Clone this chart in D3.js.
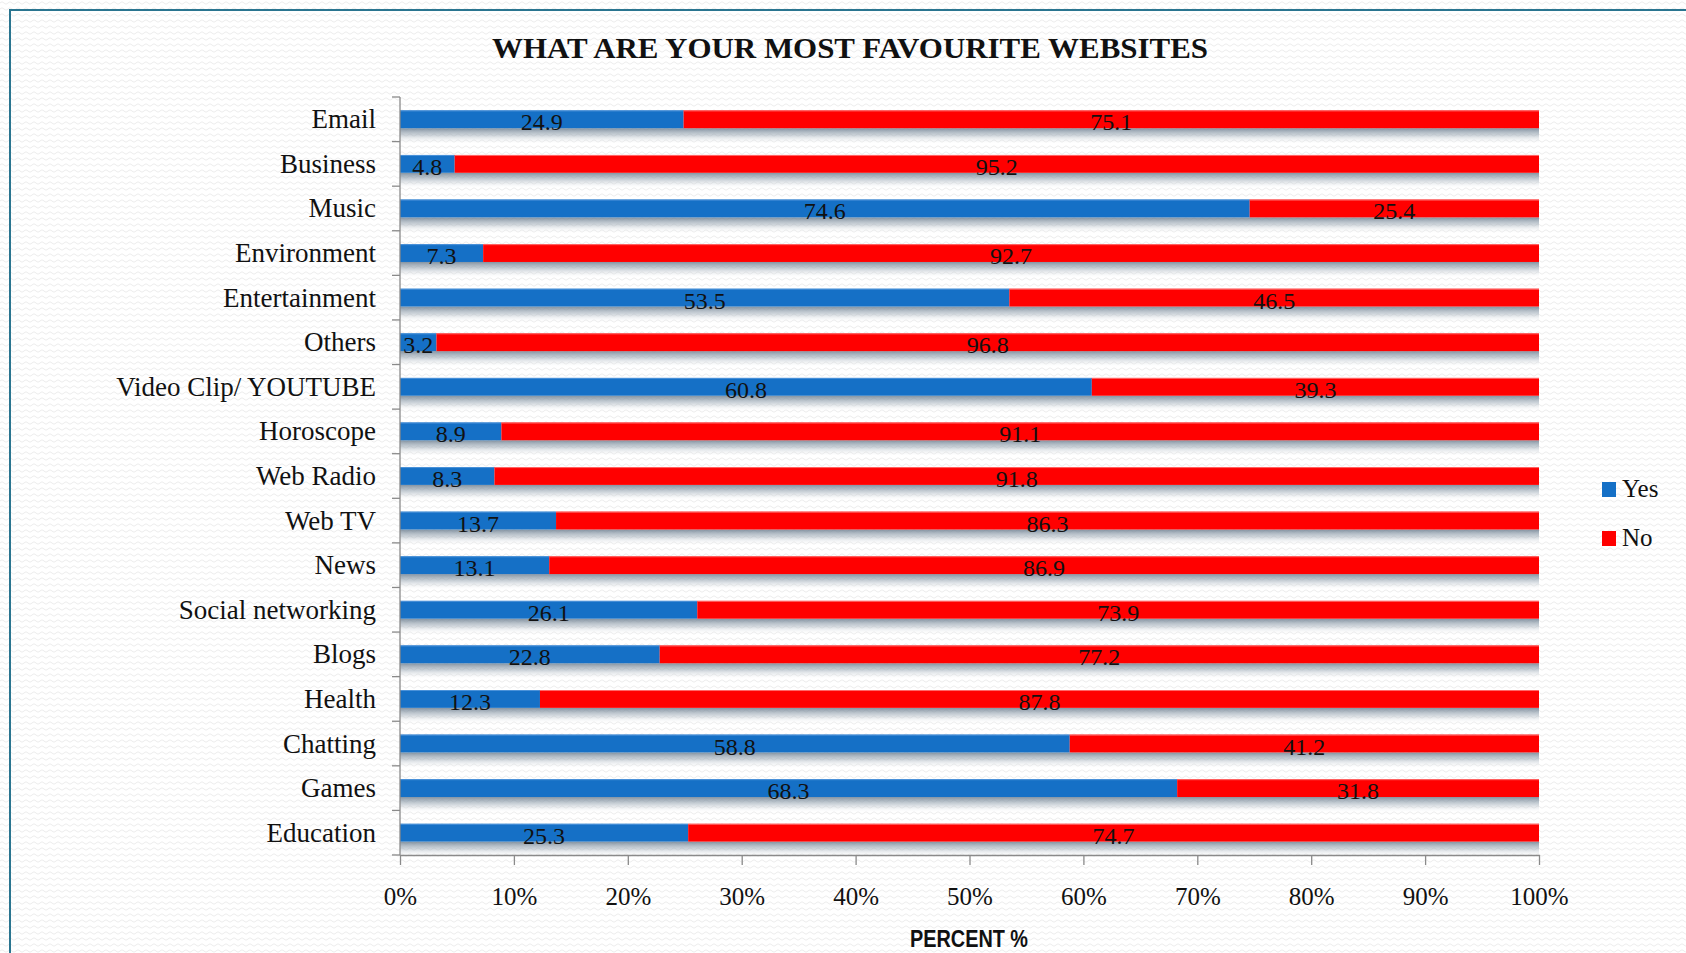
<!DOCTYPE html>
<html>
<head>
<meta charset="utf-8">
<script src="https://cdn.jsdelivr.net/npm/d3@7"></script>
<style>
  html, body { margin: 0; padding: 0; background: #ffffff; }
  svg { display: block; }
</style>
</head>
<body>
<svg id="chart" width="1686" height="953"></svg>
<script>
// Website categories, top to bottom
const categories = [
  "Email", "Business", "Music", "Environment", "Entertainment", "Others",
  "Video Clip/ YOUTUBE", "Horoscope", "Web Radio", "Web TV", "News",
  "Social networking", "Blogs", "Health", "Chatting", "Games", "Education"
];
// Share of respondents (%) answering Yes / No
const yesValues = [24.9, 4.8, 74.6, 7.3, 53.5, 3.2, 60.8, 8.9, 8.3, 13.7, 13.1, 26.1, 22.8, 12.3, 58.8, 68.3, 25.3];
const noValues  = [75.1, 95.2, 25.4, 92.7, 46.5, 96.8, 39.3, 91.1, 91.8, 86.3, 86.9, 73.9, 77.2, 87.8, 41.2, 31.8, 74.7];
const seriesNames = ["Yes", "No"];
const tickValues = [0, 0.1, 0.2, 0.3, 0.4, 0.5, 0.6, 0.7, 0.8, 0.9, 1];

const colors = { Yes: "#1570c6", No: "#ff0000" };
const serif = "'Liberation Serif', 'DejaVu Serif', serif";

const rows = categories.map((c, i) => ({ category: c, Yes: yesValues[i], No: noValues[i] }));

// 100% stacked layout: each segment normalised by its row total
const stacked = d3.stack().keys(seriesNames).offset(d3.stackOffsetExpand)(rows);

const svg = d3.select("#chart");
const defs = svg.append("defs");

// faint wavy paper texture
const pat = defs.append("pattern")
  .attr("id", "paper").attr("patternUnits", "userSpaceOnUse")
  .attr("width", 8).attr("height", 6);
pat.append("path")
  .attr("d", "M0 3 Q2 0.5 4 3 T8 3")
  .attr("fill", "none").attr("stroke", "#ececec").attr("stroke-width", 1);

// soft shadow under each bar
const grad = defs.append("linearGradient")
  .attr("id", "barShadow").attr("x1", 0).attr("y1", 0).attr("x2", 0).attr("y2", 1);
grad.append("stop").attr("offset", "0%").attr("stop-color", "#6f8192").attr("stop-opacity", 0.85);
grad.append("stop").attr("offset", "45%").attr("stop-color", "#9eabb7").attr("stop-opacity", 0.5);
grad.append("stop").attr("offset", "100%").attr("stop-color", "#ffffff").attr("stop-opacity", 0);

svg.append("rect").attr("width", 1686).attr("height", 953).attr("fill", "#ffffff");
svg.append("rect").attr("width", 1686).attr("height", 953).attr("fill", "url(#paper)");

// slide frame
svg.append("rect")
  .attr("x", 10).attr("y", 10).attr("width", 1720).attr("height", 1000)
  .attr("fill", "none").attr("stroke", "#2a7590").attr("stroke-width", 2);

const x = d3.scaleLinear().domain([0, 1]).range([400, 1539]);
const y = d3.scaleBand().domain(categories).range([97, 855])
  .paddingInner(0.6).paddingOuter(0.3);
const step = y.step();
const bw = y.bandwidth();

// Title
svg.append("text")
  .attr("x", 492).attr("y", 58)
  .attr("textLength", 716).attr("lengthAdjust", "spacingAndGlyphs")
  .attr("font-family", serif).attr("font-weight", "bold").attr("font-size", 30)
  .attr("fill", "#111").text("WHAT ARE YOUR MOST FAVOURITE WEBSITES");

// Shadows
svg.append("g").selectAll("rect").data(categories).join("rect")
  .attr("x", x(0)).attr("width", x(1) - x(0))
  .attr("y", d => y(d) + bw).attr("height", 16)
  .attr("fill", "url(#barShadow)");

// Bars
const layer = svg.append("g").selectAll("g").data(stacked).join("g")
  .attr("fill", d => colors[d.key]);
layer.selectAll("rect").data(d => d).join("rect")
  .attr("x", d => x(d[0]))
  .attr("width", d => x(d[1]) - x(d[0]))
  .attr("y", d => y(d.data.category))
  .attr("height", bw);

// thin light top edge on the bars
layer.selectAll("line").data(d => d).join("line")
  .attr("x1", d => x(d[0])).attr("x2", d => x(d[1]))
  .attr("y1", d => y(d.data.category) + 0.5).attr("y2", d => y(d.data.category) + 0.5)
  .attr("stroke", (d, i, n) => d3.select(n[i].parentNode).datum().key === "Yes" ? "#4d93da" : "#ff6a6a")
  .attr("stroke-width", 1);

// Value labels, centred in each segment
const labels = svg.append("g")
  .attr("font-family", serif).attr("font-size", 24)
  .attr("text-anchor", "middle").attr("fill", "#111");
stacked.forEach(s => {
  labels.selectAll(null).data(s).join("text")
    .attr("x", d => (x(d[0]) + x(d[1])) / 2)
    .attr("y", d => y(d.data.category) + bw / 2 + 11)
    .text(d => d.data[s.key]);
});

// Y axis: line, ticks between categories, labels
const axisColor = "#8a8a8a";
svg.append("line")
  .attr("x1", x(0)).attr("x2", x(0)).attr("y1", 97).attr("y2", 855)
  .attr("stroke", axisColor).attr("stroke-width", 1.3);
const boundaries = d3.range(categories.length + 1).map(i => 97 + i * step);
svg.append("g").selectAll("line").data(boundaries).join("line")
  .attr("x1", x(0) - 8).attr("x2", x(0))
  .attr("y1", d => d).attr("y2", d => d)
  .attr("stroke", axisColor).attr("stroke-width", 1.3);
svg.append("g")
  .attr("font-family", serif).attr("font-size", 27)
  .attr("text-anchor", "end").attr("fill", "#111")
  .selectAll("text").data(categories).join("text")
  .attr("x", 376)
  .attr("y", d => y(d) + bw / 2 + 9)
  .text(d => d);

// X axis
const xAxis = d3.axisBottom(x).tickValues(tickValues)
  .tickFormat(d3.format(".0%")).tickSize(10).tickSizeOuter(0);
const gx = svg.append("g").attr("transform", "translate(0,855)").call(xAxis);
gx.select(".domain").attr("stroke", axisColor).attr("stroke-width", 1.3);
gx.selectAll(".tick line").attr("stroke", axisColor).attr("stroke-width", 1.3);
gx.selectAll(".tick text")
  .attr("y", 50).attr("dy", 0)
  .attr("font-family", serif).attr("font-size", 25).attr("fill", "#111");

// X axis title
svg.append("text")
  .attr("x", 910).attr("y", 947)
  .attr("textLength", 118).attr("lengthAdjust", "spacingAndGlyphs")
  .attr("font-family", "'Liberation Sans Narrow', 'Liberation Sans', sans-serif")
  .attr("font-weight", "bold").attr("font-size", 23).attr("fill", "#111")
  .text("PERCENT %");

// Legend
const legend = svg.append("g").selectAll("g").data(seriesNames).join("g")
  .attr("transform", (d, i) => `translate(1602,${482 + i * 49})`);
legend.append("rect").attr("width", 14).attr("height", 15).attr("fill", d => colors[d]);
legend.append("text")
  .attr("x", 20).attr("y", 15)
  .attr("font-family", serif).attr("font-size", 25).attr("fill", "#111")
  .text(d => d);
</script>
</body>
</html>
